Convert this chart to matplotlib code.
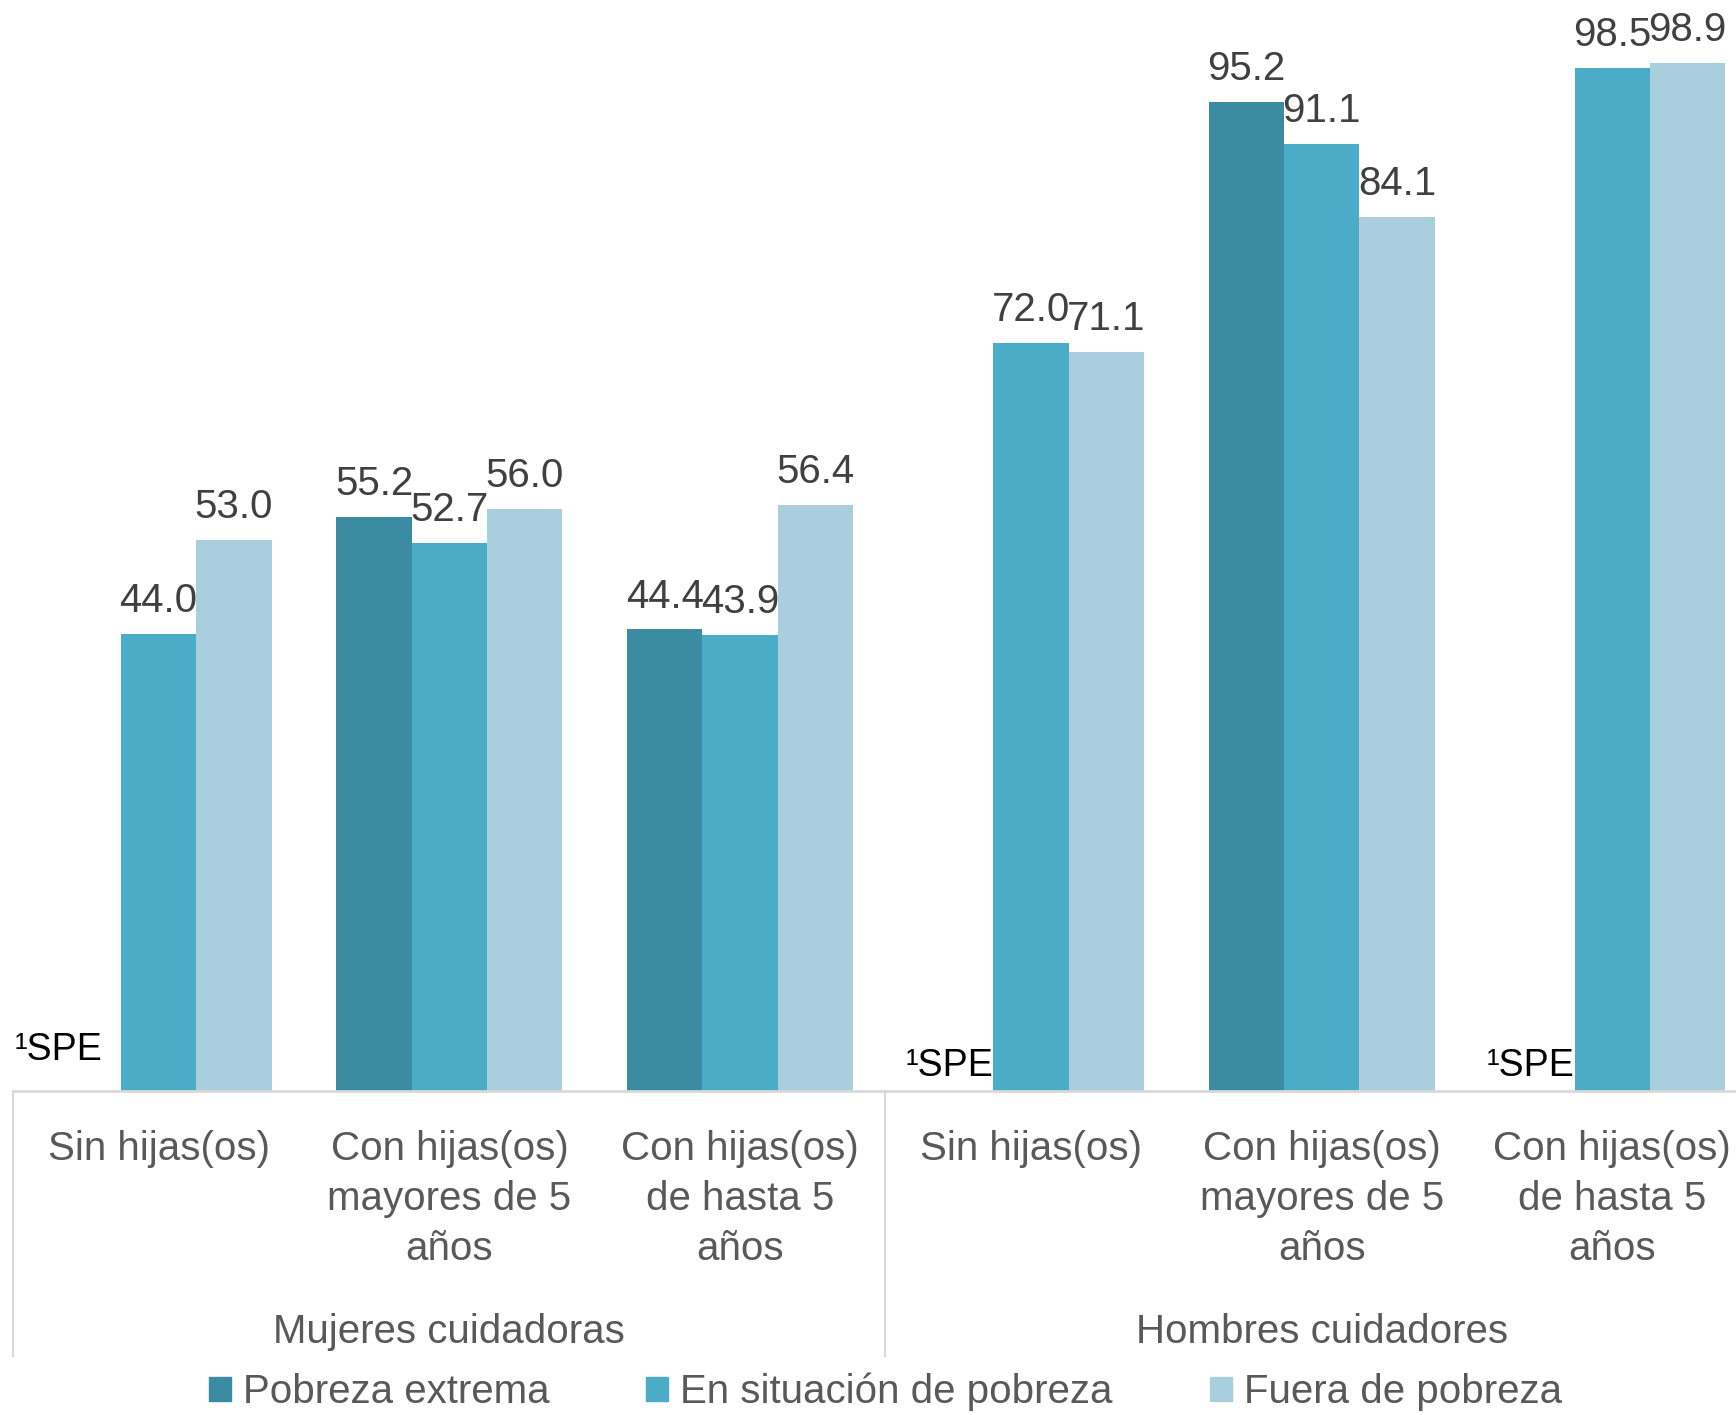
import numpy as np
import matplotlib.pyplot as plt
from matplotlib.lines import Line2D
from matplotlib.patches import Patch
import matplotlib.transforms as mtransforms

plt.rcParams['font.family'] = ['Liberation Sans', 'DejaVu Sans']

# data
categories = ['Sin hijas(os)', 'Con hijas(os)\nmayores de 5\naños', 'Con hijas(os)\nde hasta 5\naños',
              'Sin hijas(os)', 'Con hijas(os)\nmayores de 5\naños', 'Con hijas(os)\nde hasta 5\naños']
groups = ['Mujeres cuidadoras', 'Hombres cuidadores']
series_names = ['Pobreza extrema', 'En situación de pobreza', 'Fuera de pobreza']
pobreza_extrema = [None, 55.2, 44.4, None, 95.2, None]
en_pobreza = [44.0, 52.7, 43.9, 72.0, 91.1, 98.5]
fuera_pobreza = [53.0, 56.0, 56.4, 71.1, 84.1, 98.9]
missing_label = '¹SPE'

colors = ['#3b8ca3', '#4aacc6', '#a9cfde']
val_color = '#404040'
txt_color = '#595959'
line_color = '#d9d9d9'

fig = plt.figure(figsize=(17.36, 14.15), dpi=100)
left = 12 / 1568
catw = 262.6 / 1568
bottom = 1 - 985 / 1278
ax = fig.add_axes([left, bottom, 6 * catw, 1 - bottom])

x = np.arange(len(categories))
w = 0.259
all_series = [pobreza_extrema, en_pobreza, fuera_pobreza]
for i, vals in enumerate(all_series):
    idx = [k for k, v in enumerate(vals) if v is not None]
    h = [vals[k] for k in idx]
    bars = ax.bar(x[idx] + (i - 1) * w, h, width=w, color=colors[i], label=series_names[i])
    ax.bar_label(bars, labels=['%.1f' % v for v in h], padding=10, fontsize=29,
                 color=val_color)

# SPE markers where "Pobreza extrema" has no data
for k, v in enumerate(pobreza_extrema):
    if v is None:
        if k == 0:
            ax.text(x[k] - 0.195, 3.9, missing_label, ha='right', va='center', fontsize=27, color='black')
        else:
            ax.text(x[k] - w / 2, 2.4, missing_label, ha='right', va='center', fontsize=27, color='black')

ax.set_xlim(-0.5, 5.5)
ax.set_ylim(0, 105)
ax.set_xticks([])
ax.set_yticks([])
for s in ['top', 'left', 'right']:
    ax.spines[s].set_visible(False)
ax.spines['bottom'].set_color(line_color)
ax.spines['bottom'].set_linewidth(2)

trans = mtransforms.blended_transform_factory(ax.transData, fig.transFigure)
for k, c in enumerate(categories):
    ax.text(x[k], 1 - 1021 / 1278, c, transform=trans, ha='center', va='top',
            fontsize=29, color=txt_color, linespacing=1.39, clip_on=False)
for g, name in enumerate(groups):
    ax.text(3 * g + 1, 1 - 1203 / 1278, name, transform=trans, ha='center', va='center',
            fontsize=29, color=txt_color, clip_on=False)

# group separators
for k in [0, 3, 6]:
    xf = left + k * catw
    fig.add_artist(Line2D([xf, xf], [bottom, 1 - 1225 / 1278], color=line_color, lw=1.5))

handles = [Patch(color=c) for c in colors]
fig.legend(handles, series_names, loc='center', bbox_to_anchor=(0.51, 1 - 1257 / 1278),
           ncol=3, frameon=False, fontsize=29, labelcolor=txt_color,
           handlelength=0.55, handleheight=0.55, handletextpad=0.3, columnspacing=2.4,
           borderpad=0)

fig.savefig('out.png', dpi=100)
